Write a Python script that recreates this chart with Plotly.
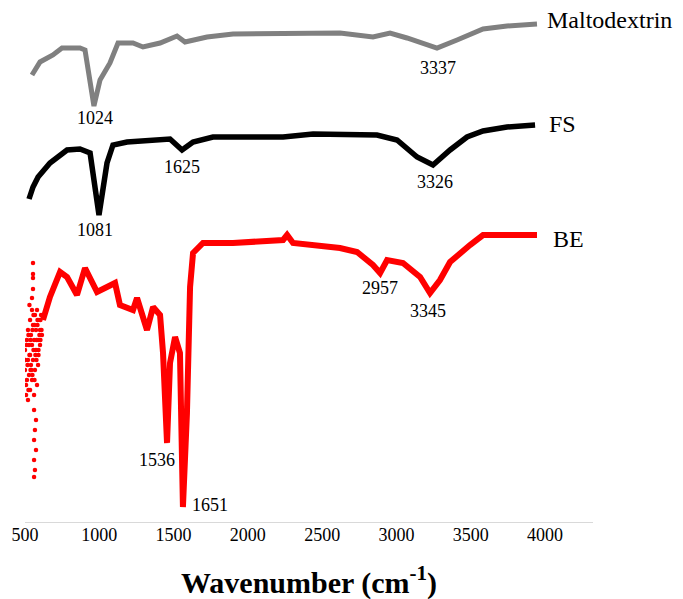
import plotly.graph_objects as go

# Wavenumber (cm-1) and offset transmittance (a.u.)
malto_wn = [547, 601, 688, 749, 870, 904, 964, 1005, 1072, 1126, 1227, 1294, 1409, 1523, 1577,
            1725, 1900, 2331, 2351, 2620, 2842, 2957, 3071, 3273, 3408, 3583, 3744, 3946]
malto_y = [89.4, 92, 93.4, 94.8, 94.8, 94.4, 83.2, 88.4, 91.8, 95.8, 95.8, 95, 95.8, 97.2, 96,
           97, 97.6, 97.6, 97.8, 97.8, 97, 97.8, 96.8, 94.8, 96.4, 98.6, 99.2, 99.6]

fs_wn = [527, 554, 588, 668, 783, 870, 938, 998, 1052, 1092, 1187, 1341, 1476, 1557, 1631, 1765,
         2237, 2439, 2620, 2869, 3004, 3139, 3246, 3361, 3475, 3583, 3744, 3933]
fs_y = [64.6, 67, 69, 71.8, 74.4, 74.6, 73.8, 61.4, 71.8, 75.4, 76, 76.2, 76.6, 74.4, 76, 77,
        77, 77.6, 77.6, 77.4, 76.4, 73, 71.4, 74.4, 77, 78.2, 79, 79.4]

be_wn = [621, 668, 736, 783, 850, 904, 985, 1052, 1106, 1139, 1227, 1254, 1294, 1321, 1362, 1409,
         1429, 1442, 1456, 1476, 1510, 1543, 1563, 1590, 1611, 1631, 1698, 1900, 2237, 2264, 2304,
         2620, 2735, 2842, 2890, 2937, 3044, 3159, 3226, 3293, 3361, 3495, 3583, 3946]
be_y = [40.4, 45, 50, 49, 45.4, 50.8, 46, 47, 47.8, 43.4, 42.4, 44.8, 40.4, 38.4, 43, 41.4,
        33.8, 20.4, 15.8, 31.8, 37, 33.8, 3, 21.8, 47, 53.8, 55.8, 55.8, 56.4, 57.4, 55.8,
        54.8, 54, 51.4, 49.8, 52.4, 51.8, 49, 45.8, 48.4, 52, 55.4, 57.4, 57.4]

be_noise_wn = [500, 500, 507, 513, 513, 520, 520, 520, 527, 527, 534, 534, 534, 540, 540, 547, 547,
               547, 554, 554, 561, 561, 567, 567, 574, 574, 581, 581, 588, 588, 594, 601, 601, 608,
               614, 554, 554, 554, 554, 547, 561, 574, 567, 561, 574, 561, 567, 561,
               503, 510, 517, 523, 530, 537, 543, 550, 557, 564, 570, 577, 584, 591, 597, 604,
               611, 507, 523, 537, 550, 564, 577, 591, 604, 530, 557, 584]
be_noise_y = [34.4, 30.4, 25.4, 36.4, 28.4, 38.4, 32.4, 24.4, 35.4, 29.4, 40.4, 33.4, 26.4, 37.4,
              31.4, 42.4, 35.4, 28.4, 39.4, 32.4, 36.4, 25.4, 41.4, 30.4, 38.4, 34.4, 42.4, 27.4,
              36.4, 31.4, 40.4, 35.4, 38.4, 41.4, 37.4, 51.8, 49.6, 48.8, 46.6, 44.8, 22.4, 20.4,
              18.4, 16.4, 14.4, 12.4, 10.4, 9,
              32.4, 35.4, 31.4, 37.4, 33.4, 36.4, 30.4, 38.4, 34.4, 39.4, 33.4, 36.4, 39.4, 33.4,
              37.4, 40.4, 38.4, 27.4, 26.4, 30.4, 29.4, 28.4, 32.4, 34.4, 36.4, 43.4, 41.4, 40.4]

peak_text = ["1024", "1081", "1625", "3337", "3326", "2957", "3345", "1536", "1651"]
peak_x = [971, 971, 1557, 3280, 3260, 2890, 3213, 1388, 1745]
peak_y = [80.8, 58.4, 71, 90.8, 68, 46.8, 42.2, 12.4, 3.4]

series_names = ["Maltodextrin", "FS", "BE"]
series_label_x = [4003, 4010, 4040]
series_label_y = [100.4, 79.6, 56.6]

x_ticks = [500, 1000, 1500, 2000, 2500, 3000, 3500, 4000]

SERIF = "Liberation Serif, Times New Roman, serif"

fig = go.Figure()
fig.add_trace(go.Scatter(x=malto_wn, y=malto_y, mode="lines",
                         line=dict(color="#808080", width=5), name="Maltodextrin"))
fig.add_trace(go.Scatter(x=fs_wn, y=fs_y, mode="lines",
                         line=dict(color="#000000", width=5.5), name="FS"))
fig.add_trace(go.Scatter(x=be_wn, y=be_y, mode="lines",
                         line=dict(color="#ff0000", width=6), name="BE"))
fig.add_trace(go.Scatter(x=be_noise_wn, y=be_noise_y, mode="markers",
                         marker=dict(color="#ff0000", size=4.5), name="BE", showlegend=False))

for t, x, y in zip(peak_text, peak_x, peak_y):
    fig.add_annotation(x=x, y=y, text=t, showarrow=False,
                       font=dict(family=SERIF, size=18, color="#000000"))

for t, x, y in zip(series_names, series_label_x, series_label_y):
    fig.add_annotation(x=x, y=y, text=t, showarrow=False, xanchor="left",
                       font=dict(family=SERIF, size=24, color="#000000"))

fig.add_annotation(x=0.5, y=-0.113, xref="paper", yref="paper",
                   text="<b>Wavenumber (cm<sup>-1</sup>)</b>", showarrow=False,
                   xanchor="center", yanchor="middle",
                   font=dict(family=SERIF, size=30, color="#000000"))

fig.update_layout(
    width=683, height=599,
    margin=dict(l=25, r=90, t=2, b=77, autoexpand=False),
    paper_bgcolor="white", plot_bgcolor="white",
    showlegend=False,
    xaxis=dict(range=[500, 4323], tickvals=x_ticks, ticktext=[str(v) for v in x_ticks],
               automargin=False,
               showgrid=False, zeroline=False, showline=True, linecolor="#d9d9d9", linewidth=1,
               ticks="", ticklabelstandoff=-4,
               tickfont=dict(family=SERIF, size=18, color="#000000")),
    yaxis=dict(range=[0, 104], visible=False, automargin=False),
)

fig.write_html("out.html", config={"displayModeBar": False},
               post_script="document.body.style.margin='0';")
